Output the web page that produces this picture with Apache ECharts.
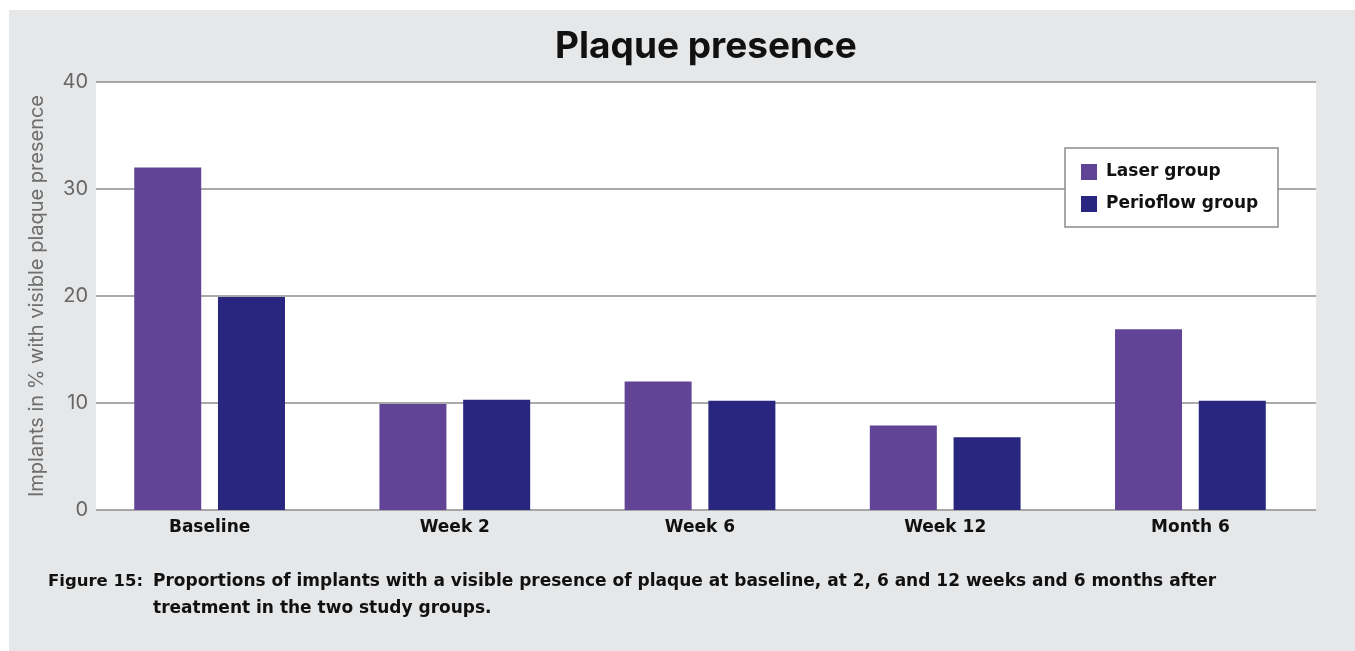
<!DOCTYPE html>
<html>
<head>
<meta charset="utf-8">
<title>Plaque presence</title>
<script src="https://cdn.jsdelivr.net/npm/echarts@6/dist/echarts.min.js"></script>
<style>
  html, body { margin: 0; padding: 0; background: #fff; }
  #chart { width: 1355px; height: 651px; }
</style>
</head>
<body>
<div id="chart"></div>
<script>
// data
var categories = ['Baseline', 'Week 2', 'Week 6', 'Week 12', 'Month 6'];
var laserGroup = [32, 9.9, 12, 7.9, 16.9];
var perioflowGroup = [19.9, 10.3, 10.2, 6.8, 10.2];
var yTicks = [0, 10, 20, 30, 40];

var FONT = 'Inter';
var WIDE = 'DejaVu Sans';
var chart = echarts.init(document.getElementById('chart'));

var option = {
  animation: false,
  backgroundColor: '#fff',
  color: ['#624497', '#29267f'],
  graphic: [
    // grey panel behind everything
    { type: 'rect', z: -10, shape: { x: 9, y: 10, width: 1346, height: 641 }, style: { fill: '#e6e7e9' } },
    { type: 'text', x: 706, y: 47, style: { text: 'Plaque presence', fill: '#111', font: 'bold 37px ' + FONT, textAlign: 'center', textVerticalAlign: 'middle' } },
    // legend box
    { type: 'rect', z: 5, shape: { x: 1065, y: 148, width: 213, height: 79 }, style: { fill: '#fff', stroke: '#8c8c8c', lineWidth: 1.5 } },
    // caption
    { type: 'text', x: 48, y: 582, style: { text: 'Figure 15:', fill: '#111', font: 'bold 16.5px ' + WIDE, textVerticalAlign: 'middle' } },
    { type: 'text', x: 153, y: 582, style: { text: 'Proportions of implants with a visible presence of plaque at baseline, at 2, 6 and 12 weeks and 6 months after', fill: '#111', font: 'bold 17px ' + WIDE, textVerticalAlign: 'middle' } },
    { type: 'text', x: 153, y: 609, style: { text: 'treatment in the two study groups.', fill: '#111', font: 'bold 17px ' + WIDE, textVerticalAlign: 'middle' } }
  ],
  legend: {
    orient: 'vertical',
    left: 1081,
    top: 162,
    z: 6,
    padding: 0,
    itemWidth: 16,
    itemHeight: 16,
    itemGap: 12,
    icon: 'rect',
    textStyle: { fontFamily: WIDE, fontWeight: 'bold', fontSize: 17, color: '#111', padding: [0, 0, 0, 4], lineHeight: 20 },
    data: ['Laser group', 'Perioflow group']
  },
  grid: [
    // white plot area with gridlines
    { left: 96, top: 82, width: 1220, height: 428, show: true, backgroundColor: '#fff', borderWidth: 0 },
    // bars
    { left: 87, top: 82, width: 1226, height: 428 }
  ],
  xAxis: [
    { gridIndex: 0, type: 'category', data: categories, show: false },
    {
      gridIndex: 1, type: 'category', data: categories,
      axisLine: { show: false }, axisTick: { show: false },
      axisLabel: { margin: 9, fontFamily: WIDE, fontWeight: 'bold', fontSize: 17, color: '#111' }
    }
  ],
  yAxis: [
    {
      gridIndex: 0, type: 'value', min: yTicks[0], max: yTicks[yTicks.length - 1], interval: 10,
      name: 'Implants in % with visible plaque presence',
      nameLocation: 'middle', nameGap: 49,
      nameTextStyle: { fontFamily: FONT, fontSize: 20, color: '#6e6e6e' },
      axisLine: { show: false }, axisTick: { show: false },
      axisLabel: { margin: 8, fontFamily: FONT, fontSize: 20, color: '#666' },
      splitLine: { show: true, lineStyle: { color: '#8e8e8e', width: 1.5 } }
    },
    { gridIndex: 1, type: 'value', min: 0, max: 40, show: false, splitLine: { show: false } }
  ],
  series: [
    { name: 'Laser group', type: 'bar', xAxisIndex: 1, yAxisIndex: 1, barWidth: 67, barGap: '25%', data: laserGroup, z: 3 },
    { name: 'Perioflow group', type: 'bar', xAxisIndex: 1, yAxisIndex: 1, barWidth: 67, barGap: '25%', data: perioflowGroup, z: 3 }
  ]
};
chart.setOption(option);
</script>
</body>
</html>
